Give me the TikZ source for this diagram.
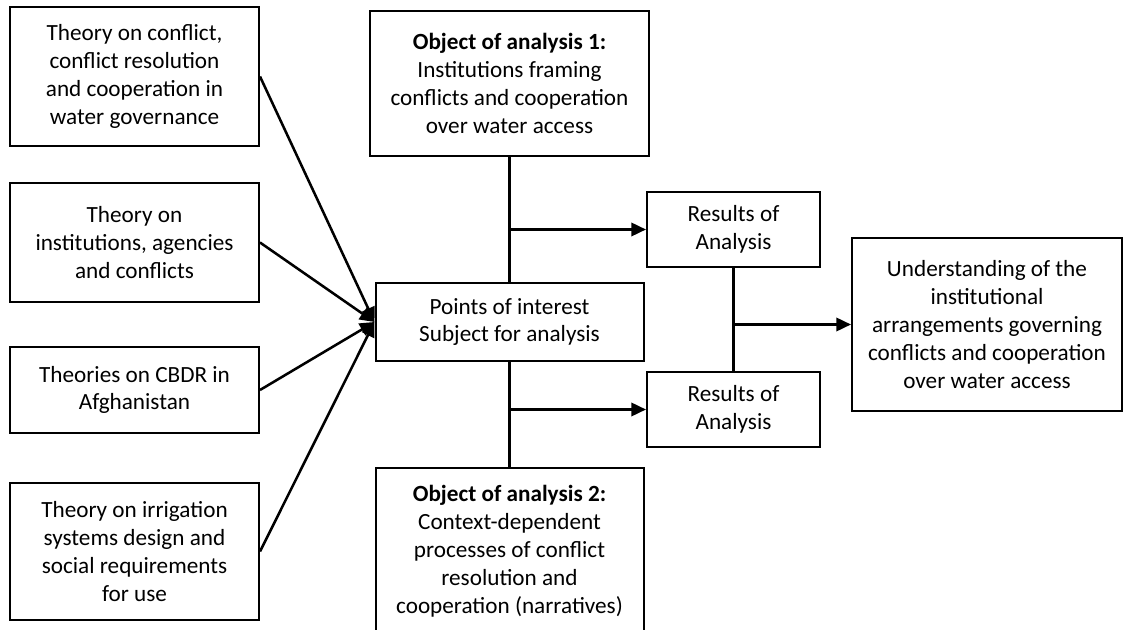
\documentclass[tikz,border=0pt]{standalone}
\usepackage{fontspec}
\setmainfont{Carlito}
\usetikzlibrary{arrows.meta}
\begin{document}
\begin{tikzpicture}[x=0.75pt,y=-0.75pt,
  box/.style={draw=black,line width=1.5pt,align=center,inner sep=0pt,
    font=\fontsize{17.4}{20.9}\selectfont},
  conn/.style={line width=1.9pt,draw=black},
  arr/.style={conn,-{Triangle[length=11pt,width=10pt]}}]
\useasboundingbox (0,0) rectangle (1124,630);
\node[box,minimum width={249*0.75pt},minimum height={139*0.75pt}] (A) at (134.5,76.5)
  {Theory on conflict,\\conflict resolution\\and cooperation in\\water governance};
\node[box,minimum width={249*0.75pt},minimum height={119*0.75pt}] (B) at (134.5,242.5)
  {Theory on\\institutions, agencies\\and conflicts};
\node[box,minimum width={249*0.75pt},minimum height={86*0.75pt}] (C) at (134.5,390)
  {Theories on CBDR in\\Afghanistan};
\node[box,minimum width={249*0.75pt},minimum height={137*0.75pt}] (D) at (134.5,551.5)
  {Theory on irrigation\\systems design and\\social requirements\\for use};
\node[box,minimum width={279*0.75pt},minimum height={145*0.75pt}] (O1) at (509.5,83.5)
  {\textbf{Object of analysis 1:}\\Institutions framing\\conflicts and cooperation\\over water access};
\node[box,minimum width={268*0.75pt},minimum height={78*0.75pt}] (P) at (509.5,322)
  {Points of interest\\Subject for analysis};
\node[box,minimum width={268*0.75pt},minimum height={166*0.75pt}] (O2) at (509.5,551)
  {\textbf{Object of analysis 2:}\\Context-dependent\\processes of conflict\\resolution and\\cooperation (narratives)};
\node[box,minimum width={173*0.75pt},minimum height={75*0.75pt}] (R1) at (733.5,229.5)
  {Results of\\Analysis};
\node[box,minimum width={173*0.75pt},minimum height={75*0.75pt}] (R2) at (733.5,409.5)
  {Results of\\Analysis};
\node[box,minimum width={270*0.75pt},minimum height={173*0.75pt}] (U) at (987,324.5)
  {Understanding of the\\institutional\\arrangements governing\\conflicts and cooperation\\over water access};
\foreach \n in {A,B,C,D} \draw[arr] (\n.east) -- (P.west);
\draw[conn] (O1.south) -- (P.north);
\draw[arr] (O1.south |- R1.west) -- (R1.west);
\draw[conn] (P.south) -- (O2.north);
\draw[arr] (P.south |- R2.west) -- (R2.west);
\draw[conn] (R1.south) -- (R2.north);
\draw[arr] (R1.south |- U.west) -- (U.west);
\end{tikzpicture}
\end{document}
